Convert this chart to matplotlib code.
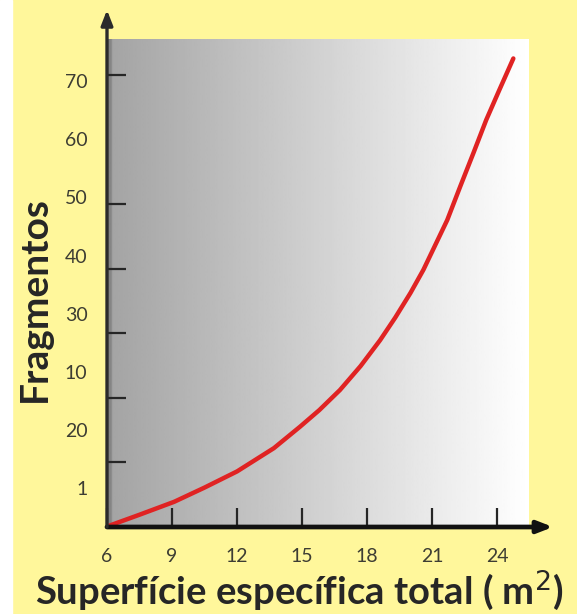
import numpy as np
import matplotlib.pyplot as plt

# data
superficie = [6.1, 7.5, 9.1, 10.5, 12.0, 13.7, 14.9, 15.8, 16.75, 17.7, 18.6,
              19.3, 20.0, 20.6, 21.0, 21.7, 22.3, 22.9, 23.5, 24.1, 24.75]
fragmentos = [0.2, 1.9, 3.9, 6.1, 8.6, 12.2, 15.5, 18.1, 21.2, 24.9, 28.9,
              32.4, 36.2, 39.8, 42.6, 47.5, 52.7, 57.8, 63.0, 67.6, 72.5]

x_ticks = [6, 9, 12, 15, 18, 21, 24]
y_tick_marks = [10, 20, 30, 40, 50, 60, 70]
# the labels in the original do not sit on the tick marks
y_label_pos = [6, 15, 24, 33, 42, 51, 60, 69]
y_label_txt = ["1", "20", "10", "30", "40", "50", "60", "70"]

yellow = "#FFF79B"
ink = "#262626"

fig = plt.figure(figsize=(5.77, 6.14), dpi=100)
fig.patch.set_facecolor(yellow)
# thin white strip on the left edge
fig.patches.append(plt.Rectangle((0, 0), 12 / 577, 1, transform=fig.transFigure,
                                 color="white", zorder=0))

ax = fig.add_axes([107 / 577, 87 / 614, 446 / 577, 517 / 614])
ax.set_facecolor("none")
ax.set_xlim(6, 26.58)
ax.set_ylim(0, 80)

# grey -> white gradient behind the curve
grad = np.linspace(0.64, 1.0, 256)[None, :]
grad[0, :3] = 0.52
ax.imshow(grad, extent=(6, 25.47, 0, 75.4), aspect="auto", cmap="gray",
          vmin=0, vmax=1, zorder=0, interpolation="bilinear")

ax.plot(superficie, fragmentos, color="#E02323", lw=3.2, solid_capstyle="round",
        solid_joinstyle="round", zorder=3, clip_on=False)

# axis lines with arrow heads
for s in ax.spines.values():
    s.set_visible(False)
ax.annotate("", xy=(26.58, 0), xytext=(6, 0),
            arrowprops=dict(arrowstyle="-|>,head_length=0.9,head_width=0.35",
                            color="#111111", lw=3.4, shrinkA=0, shrinkB=0),
            annotation_clip=False, zorder=4)
ax.annotate("", xy=(6, 80), xytext=(6, 0),
            arrowprops=dict(arrowstyle="-|>,head_length=0.9,head_width=0.35",
                            color="#2b2b2b", lw=2.4, shrinkA=0, shrinkB=0),
            annotation_clip=False, zorder=4)

ax.set_xticks(x_ticks)
ax.set_xticklabels([str(v) for v in x_ticks])
ax.tick_params(axis="x", direction="in", length=14, width=1.6, color=ink,
               pad=15, labelsize=14, labelcolor="#3d3d33")

ax.set_yticks(y_label_pos)
ax.set_yticklabels(y_label_txt)
ax.set_yticks(y_tick_marks, minor=True)
ax.tick_params(axis="y", which="major", length=0, pad=14, labelsize=14,
               labelcolor="#3d3d33")
ax.tick_params(axis="y", which="minor", direction="in", length=14, width=1.6,
               color=ink)
for lab in ax.get_xticklabels() + ax.get_yticklabels():
    lab.set_family("Lato")

ax.set_xlabel("Superfície específica total ( m$^{2}$)", fontsize=27.5,
              family="Lato", fontweight="bold", color=ink, labelpad=3, x=0.43)
ax.set_ylabel("Fragmentos", fontsize=28, family="Lato", fontweight="bold",
              color=ink, labelpad=9, y=0.44)

fig.savefig("out.png", dpi=100, facecolor=yellow)
